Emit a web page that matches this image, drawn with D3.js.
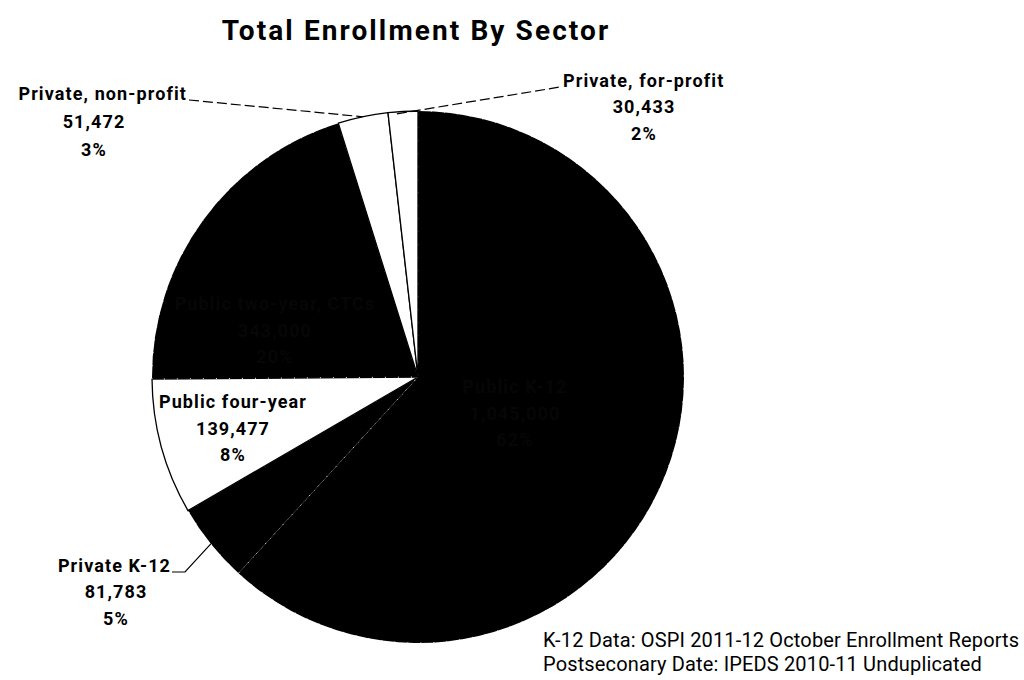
<!DOCTYPE html>
<html><head><meta charset="utf-8">
<script src="https://cdn.jsdelivr.net/npm/d3@7"></script>
<style>body{margin:0;background:#fff}svg{display:block}</style>
</head><body>
<svg id="c" width="1024" height="680"></svg>
<script>
const categories = ["Public K-12","Private K-12","Public four-year","Public two-year, CTCs","Private, non-profit","Private, for-profit"];
const values = [1045000, 81783, 139477, 343000, 51472, 30433];
const valueLabels = ["1,045,000","81,783","139,477","343,000","51,472","30,433"];
const pctLabels = ["62%","5%","8%","20%","3%","2%"];
const fills = ["#000","#000","#fff","#000","#fff","#fff"];
const title = "Total Enrollment By Sector";
const notes = ["K-12 Data: OSPI 2011-12 October Enrollment Reports","Postseconary Date: IPEDS 2010-11 Unduplicated"];

const svg = d3.select("#c");
const cx = 418, cy = 377, R = 266;
const font = "Roboto, 'Open Sans', sans-serif";

svg.append("text").attr("x", 416).attr("y", 40).attr("text-anchor","middle")
  .attr("font-family", font).attr("font-weight","bold").attr("font-size", 28)
  .attr("letter-spacing", 2.1).attr("fill","#000").text(title);

const pie = d3.pie().sort(null).value(d => d).startAngle(0).endAngle(2*Math.PI);
const arcs = pie(values);
const arc = d3.arc().innerRadius(0).outerRadius(R);
const g = svg.append("g").attr("transform", `translate(${cx},${cy})`);
g.selectAll("path").data(arcs).join("path")
  .attr("d", arc)
  .attr("fill", (d,i) => fills[i])
  .attr("stroke", (d,i) => fills[i] === "#000" ? "#fff" : "#000")
  .attr("stroke-width", (d,i) => fills[i] === "#000" ? 1 : 1.3)
  .attr("stroke-dasharray", (d,i) => fills[i] === "#000" ? "1,12" : null);

const lab = svg.append("g").attr("font-family", font).attr("font-weight","bold")
  .attr("font-size", 18).attr("letter-spacing", 1.1).attr("text-anchor","middle");
function block(x, y, lines, color, dy) {
  const t = lab.append("text").attr("fill", color);
  lines.forEach((s, k) => t.append("tspan").attr("x", x).attr("y", y + k*dy).text(s));
}
// inside labels: [index, x, first baseline]
const inside = [[0, 515, 393], [2, 233, 408], [3, 275, 310]];
inside.forEach(([i, x, y]) => {
  const color = fills[i] === "#000" ? "#060606" : "#000";
  block(x, y, [categories[i], valueLabels[i], pctLabels[i]], color, 26.5);
});

const leader = svg.append("g").attr("fill","none").attr("stroke","#000").attr("stroke-width",1.2);
function edgePt(i, frac) {
  const a = arcs[i].startAngle + (arcs[i].endAngle - arcs[i].startAngle) * frac;
  return [cx + Math.sin(a)*R, cy - Math.cos(a)*R];
}
// Private, non-profit
let p = edgePt(4, 0.5);
leader.append("polyline").attr("stroke-dasharray","10,4")
  .attr("points", [[189,100],[p[0], p[1]]].map(q=>q.join(",")).join(" "));
lab.append("text").attr("x",187).attr("y",100).attr("text-anchor","end").text(categories[4]);
block(94, 128, [valueLabels[4], pctLabels[4]], "#000", 28);
// Private, for-profit
p = edgePt(5, 0.3);
leader.append("polyline").attr("stroke-dasharray","10,4")
  .attr("points", [[p[0], p[1]+2],[560,87]].map(q=>q.join(",")).join(" "));
lab.append("text").attr("x",563).attr("y",87).attr("text-anchor","start").text(categories[5]);
block(644, 113, [valueLabels[5], pctLabels[5]], "#000", 27);
// Private K-12
p = edgePt(1, 0.5);
leader.append("polyline")
  .attr("points", [[p[0], p[1]],[185,572],[172,572]].map(q=>q.join(",")).join(" "));
lab.append("text").attr("x",171).attr("y",572).attr("text-anchor","end").text(categories[1]);
block(116, 598, [valueLabels[1], pctLabels[1]], "#000", 27);

const nt = svg.append("g").attr("font-family", font).attr("font-size", 20).attr("letter-spacing", 0.15).attr("fill","#000");
notes.forEach((s,k) => nt.append("text").attr("x", 543).attr("y", 647 + k*23.5).text(s));
</script>
</body></html>
